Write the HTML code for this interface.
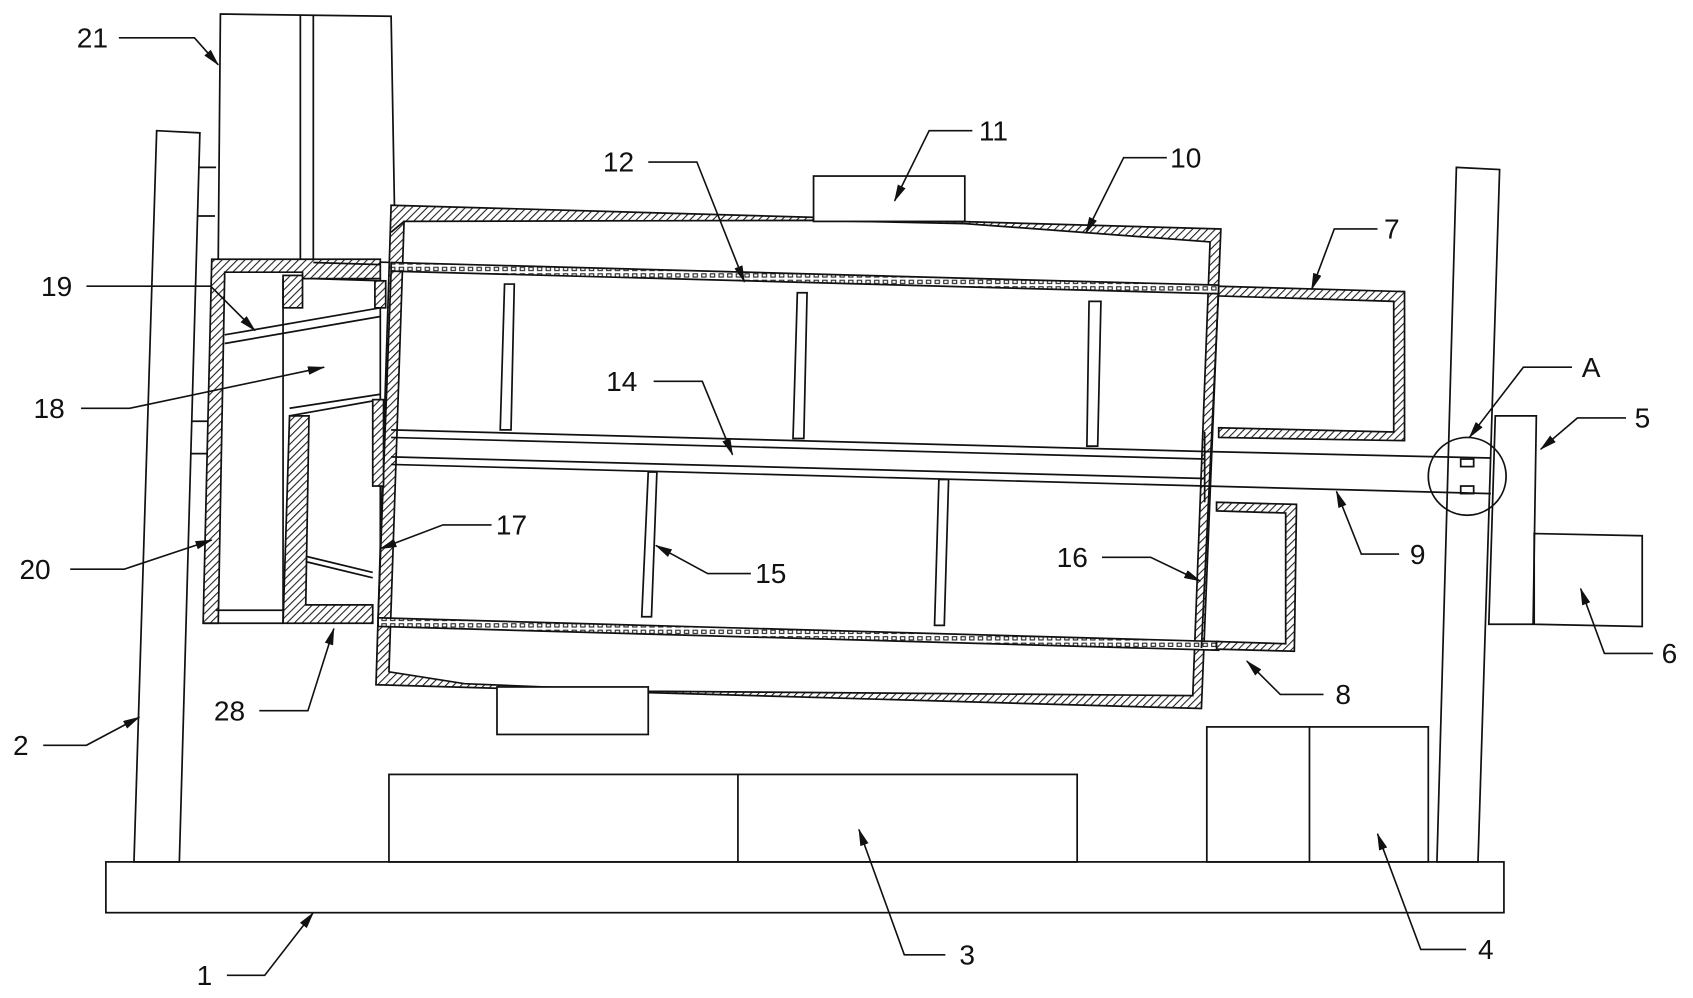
<!DOCTYPE html>
<html><head><meta charset="utf-8"><style>
html,body{margin:0;padding:0;background:#fff;}
svg{display:block;}
text{font-family:"Liberation Sans",Arial,sans-serif;font-size:26px;fill:#111;}
</style></head><body>
<svg width="1693" height="998" viewBox="0 0 1567 924" preserveAspectRatio="none" xmlns="http://www.w3.org/2000/svg">
<defs>
<pattern id="h" width="5" height="5" patternUnits="userSpaceOnUse" patternTransform="rotate(45)">
<rect width="5" height="5" fill="#fff"/><line x1="0" y1="0" x2="0" y2="5" stroke="#222" stroke-width="2"/></pattern>
<pattern id="d" width="8" height="6" patternUnits="userSpaceOnUse">
<rect width="8" height="6" fill="#fff"/><rect x="1.5" y="1.5" width="4" height="3" fill="none" stroke="#222" stroke-width="1"/></pattern>
<marker id="ar" markerWidth="16" markerHeight="8" refX="15" refY="4" orient="auto" markerUnits="userSpaceOnUse" viewBox="0 0 16 8">
<path d="M0,0 L16,4 L0,8 z" fill="#111"/></marker>
</defs>
<g fill="none" stroke="#111" stroke-width="1.6">
<rect x="98" y="798" width="1294" height="47" fill="#fff"/>
<polygon points="145,121 185,123 166,798 124,798"/>
<line x1="184" y1="155" x2="200" y2="155"/><line x1="183" y1="200" x2="199" y2="200"/>
<line x1="178" y1="390" x2="194" y2="390"/><line x1="177" y1="420" x2="193" y2="420"/>
<polygon points="1348,155 1388,157 1368,798 1330,798"/>
<polygon points="1384,385 1422,385 1419,578 1378,578"/>
<polygon points="1420,494 1520,496 1520,580 1420,578"/>
<rect x="360" y="717" width="637" height="81"/><line x1="683" y1="717" x2="683" y2="798"/>
<rect x="1117" y="673" width="205" height="125"/><line x1="1212" y1="673" x2="1212" y2="798"/>
<polygon points="204,13 362,15 366,243 202,240"/>
<line x1="278" y1="14" x2="278" y2="240"/><line x1="290" y1="14" x2="290" y2="240"/>
<path d="M196,240 L352,240 L352,258 L280,258 L280,252 L208,252 L202,577 L188,577 Z" fill="url(#h)"/>
<rect x="262" y="255" width="18" height="30" fill="url(#h)"/>
<path d="M268,385 L286,385 L283,560 L345,560 L345,577 L262,577 Z" fill="url(#h)"/>
<line x1="188" y1="577" x2="262" y2="577"/><line x1="200" y1="565" x2="262" y2="565"/>
<line x1="352" y1="258" x2="352" y2="577"/>
<line x1="262" y1="258" x2="262" y2="577"/>
<line x1="208" y1="310" x2="352" y2="285"/><line x1="208" y1="318" x2="352" y2="293"/>
<line x1="268" y1="385" x2="352" y2="370"/><line x1="268" y1="378" x2="352" y2="365"/>
<line x1="283" y1="520" x2="345" y2="535"/><line x1="283" y1="515" x2="345" y2="530"/>
<line x1="290" y1="243" x2="352" y2="245"/><line x1="290" y1="258" x2="352" y2="260"/>
<path d="M362,190 L1130,212 L1112,656 L348,634 Z" fill="url(#h)"/>
<path d="M374,205 L750,204 L893,207 L1120,224 L1104,644 L600,640 L430,633 L360,622 Z" fill="#fff"/>
<line x1="374" y1="205" x2="362" y2="215"/>
<rect x="753" y="163" width="140" height="42" fill="#fff"/>
<rect x="460" y="636" width="140" height="44" fill="#fff"/>
<polygon points="362,243 1128,264 1128,272 362,251" fill="url(#d)"/>
<polygon points="350,572 1128,594 1128,602 350,580" fill="url(#d)"/>
<line x1="362" y1="251" x2="350" y2="572"/>
<line x1="1128" y1="268" x2="1112" y2="600"/>
<rect x="347" y="260" width="10" height="25" fill="url(#h)"/>
<rect x="345" y="370" width="10" height="80" fill="url(#h)"/>
<path d="M1128,265 L1300,270 L1300,408 L1128,405 L1128,396 L1290,400 L1290,279 L1128,274 Z" fill="url(#h)"/>
<path d="M1126,465 L1200,467 L1198,603 L1126,601 L1126,594 L1190,596 L1190,475 L1126,473 Z" fill="url(#h)"/>
<line x1="362" y1="398" x2="1115" y2="418"/><line x1="362" y1="405" x2="1115" y2="425"/>
<line x1="362" y1="423" x2="1115" y2="443"/><line x1="362" y1="430" x2="1115" y2="450"/>
<line x1="1115" y1="418" x2="1380" y2="424"/><line x1="1115" y1="450" x2="1380" y2="457"/>
<line x1="1115" y1="400" x2="1115" y2="465"/>
<polygon points="467,263 476,263 473,398 463,398"/>
<polygon points="738,271 747,271 744,406 734,406"/>
<polygon points="1008,279 1019,279 1016,413 1006,413"/>
<polygon points="600,437 608,437 603,571 594,571"/>
<polygon points="869,444 878,444 874,579 865,579"/>
<circle cx="1358" cy="441" r="36"/>
<rect x="1352" y="425" width="12" height="7"/><rect x="1352" y="450" width="12" height="7"/>
</g>
<g fill="none" stroke="#111" stroke-width="1.5" marker-end="url(#ar)">
<polyline points="110,35 180,35 202,60"/>
<polyline points="80,265 195,265 236,306"/>
<polyline points="75,378 120,378 300,340"/>
<polyline points="65,527 115,527 196,500"/>
<polyline points="40,690 80,690 129,664"/>
<polyline points="240,658 285,658 309,582"/>
<polyline points="600,150 645,150 689,261"/>
<polyline points="900,121 860,121 828,186"/>
<polyline points="1080,146 1040,146 1005,216"/>
<polyline points="1275,212 1235,212 1214,268"/>
<polyline points="605,353 650,353 678,421"/>
<polyline points="455,486 410,486 352,508"/>
<polyline points="695,531 655,531 607,505"/>
<polyline points="1020,516 1065,516 1111,538"/>
<polyline points="1295,513 1260,513 1237,455"/>
<polyline points="1455,340 1410,340 1360,405"/>
<polyline points="1505,387 1460,387 1426,416"/>
<polyline points="1530,605 1485,605 1463,545"/>
<polyline points="1225,643 1185,643 1154,612"/>
<polyline points="210,903 245,903 290,845"/>
<polyline points="875,884 837,884 795,768"/>
<polyline points="1357,879 1315,879 1275,772"/>
</g>
<g>
<text x="71" y="44">21</text><text x="38" y="274">19</text><text x="31" y="387">18</text>
<text x="18" y="536">20</text><text x="12" y="699">2</text><text x="198" y="667">28</text>
<text x="558" y="159">12</text><text x="906" y="130">11</text><text x="1083" y="155">10</text>
<text x="1281" y="221">7</text><text x="561" y="362">14</text><text x="459" y="495">17</text>
<text x="699" y="540">15</text><text x="978" y="525">16</text><text x="1305" y="522">9</text>
<text x="1464" y="349">A</text><text x="1513" y="396">5</text><text x="1538" y="614">6</text>
<text x="1236" y="652">8</text><text x="182" y="912">1</text><text x="888" y="893">3</text>
<text x="1368" y="888">4</text>
</g>
</svg>
</body></html>
